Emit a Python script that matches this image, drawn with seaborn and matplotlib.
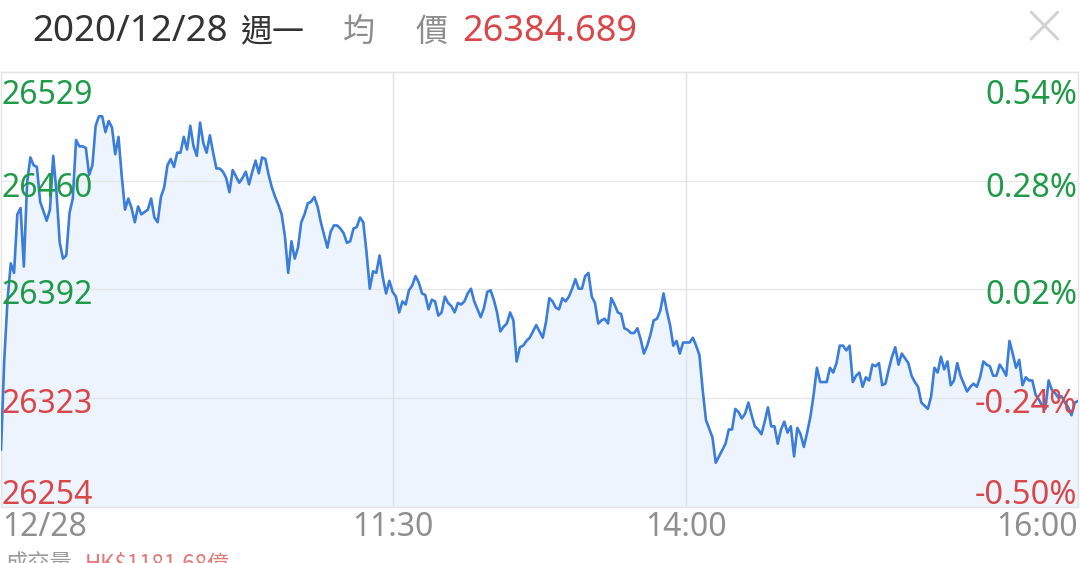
import matplotlib
matplotlib.use("Agg")
import matplotlib.pyplot as plt
import pandas as pd
import seaborn as sns

sns.set_theme(style="white")
plt.rcParams['font.family'] = ['Noto Sans', 'Noto Sans CJK TC', 'DejaVu Sans']

# trading minutes since 9:30 (lunch break removed), index level
minutes = [0, 1, 2, 3, 4, 5, 6, 7, 8, 9, 10, 11, 12, 14, 15, 16, 17, 18, 19, 20,
           21, 22, 23, 24, 25, 26, 27, 28, 29, 30, 31, 32, 33, 34, 35, 36, 37, 38, 39, 40,
           41, 42, 43, 45, 46, 47, 48, 49, 50, 51, 52, 53, 54, 55, 56, 57, 58, 59, 60, 61,
           62, 63, 64, 65, 66, 67, 68, 69, 70, 71, 72, 73, 74, 75, 76, 77, 78, 79, 80, 81,
           82, 83, 84, 85, 86, 87, 88, 89, 90, 91, 92, 93, 94, 95, 96, 97, 98, 99, 100, 101,
           102, 103, 104, 105, 106, 107, 108, 109, 110, 111, 112, 113, 114, 115, 116, 117, 118, 119, 120, 121,
           122, 123, 124, 125, 126, 127, 128, 129, 130, 131, 132, 133, 134, 135, 136, 137, 138, 139, 140, 141,
           142, 143, 144, 145, 146, 147, 148, 149, 150, 151, 152, 153, 154, 155, 156, 157, 158, 159, 160, 161,
           162, 163, 164, 165, 166, 167, 168, 169, 170, 171, 172, 173, 174, 175, 176, 177, 178, 179, 180, 181,
           182, 183, 184, 185, 186, 187, 188, 189, 190, 191, 192, 193, 194, 195, 196, 197, 198, 199, 200, 201,
           202, 203, 204, 205, 206, 207, 208, 209, 210, 211, 212, 213, 214, 215, 216, 218, 219, 220, 221, 222,
           223, 224, 225, 226, 227, 228, 229, 230, 231, 232, 233, 234, 235, 236, 237, 238, 239, 240, 241, 242,
           243, 244, 245, 246, 247, 248, 249, 250, 251, 252, 253, 254, 255, 256, 257, 258, 259, 260, 261, 262,
           263, 264, 265, 266, 267, 268, 269, 270, 271, 272, 273, 274, 275, 276, 277, 278, 279, 280, 281, 282,
           283, 284, 285, 286, 287, 288, 289, 290, 291, 292, 293, 294, 295, 296, 297, 298, 299, 300, 301, 302,
           303, 304, 305, 306, 307, 308, 309, 310, 311, 312, 313, 314, 315, 316, 317, 318, 319, 320, 321, 322,
           323, 324, 325, 326, 327, 328, 329, 330]
prices = [26290, 26347, 26385, 26408, 26402, 26439, 26443, 26406, 26459, 26475, 26470, 26469, 26447, 26435, 26442, 26476, 26453, 26421, 26411, 26413,
          26440, 26449, 26486, 26482, 26482, 26481, 26464, 26470, 26495, 26501, 26501, 26491, 26498, 26494, 26477, 26488, 26463, 26442, 26449, 26443,
          26434, 26444, 26439, 26442, 26449, 26437, 26434, 26450, 26456, 26470, 26474, 26469, 26478, 26478, 26488, 26480, 26495, 26482, 26476, 26497,
          26484, 26478, 26489, 26478, 26468, 26468, 26466, 26462, 26453, 26467, 26463, 26459, 26462, 26466, 26458, 26466, 26473, 26465, 26475, 26474,
          26464, 26456, 26450, 26445, 26439, 26425, 26402, 26422, 26411, 26418, 26434, 26439, 26446, 26447, 26450, 26444, 26434, 26426, 26418, 26428,
          26432, 26432, 26430, 26427, 26421, 26422, 26430, 26431, 26437, 26434, 26415, 26392, 26403, 26402, 26413, 26399, 26389, 26397, 26390, 26387,
          26377, 26384, 26382, 26391, 26394, 26400, 26396, 26389, 26388, 26379, 26385, 26384, 26375, 26377, 26387, 26383, 26381, 26377, 26383, 26382,
          26384, 26389, 26392, 26384, 26379, 26374, 26380, 26390, 26391, 26385, 26377, 26365, 26368, 26370, 26377, 26372, 26346, 26355, 26356, 26359,
          26361, 26365, 26369, 26365, 26361, 26371, 26386, 26384, 26380, 26379, 26386, 26384, 26387, 26392, 26398, 26392, 26392, 26400, 26402, 26387,
          26383, 26370, 26372, 26373, 26370, 26386, 26382, 26377, 26376, 26367, 26366, 26364, 26364, 26367, 26360, 26351, 26356, 26363, 26372, 26373,
          26378, 26389, 26378, 26369, 26356, 26359, 26351, 26358, 26358, 26358, 26361, 26356, 26350, 26328, 26309, 26298, 26282, 26286, 26290, 26294,
          26303, 26303, 26316, 26314, 26310, 26313, 26320, 26312, 26305, 26303, 26300, 26308, 26317, 26305, 26305, 26294, 26303, 26308, 26301, 26305,
          26286, 26304, 26300, 26292, 26301, 26311, 26325, 26342, 26333, 26333, 26333, 26342, 26339, 26345, 26356, 26356, 26353, 26356, 26333, 26337,
          26339, 26330, 26336, 26334, 26344, 26343, 26345, 26331, 26332, 26341, 26349, 26355, 26344, 26351, 26348, 26345, 26337, 26333, 26330, 26320,
          26318, 26316, 26324, 26342, 26339, 26349, 26341, 26346, 26331, 26334, 26345, 26337, 26332, 26327, 26330, 26332, 26330, 26336, 26346, 26344,
          26343, 26337, 26337, 26344, 26341, 26337, 26359, 26351, 26342, 26347, 26331, 26336, 26334, 26334, 26325, 26322, 26318, 26316, 26334, 26328,
          26326, 26323, 26324, 26320, 26317, 26312, 26320, 26321]

y_ticks = [26529, 26460, 26392, 26323, 26254]
pct_labels = ["0.54%", "0.28%", "0.02%", "-0.24%", "-0.50%"]
x_ticks = [0, 120, 210, 330]
x_labels = ["12/28", "11:30", "14:00", "16:00"]

GREEN = "#1f9a48"
RED = "#d8474a"
LINE = "#3b7ddb"

df = pd.DataFrame({"minute": minutes, "price": prices})

fig = plt.figure(figsize=(10.8, 5.63), dpi=100)
ax = fig.add_axes([1 / 1080, 1 - 507 / 563, 1077 / 1080, 435 / 563])

ax.fill_between(df["minute"], df["price"], y_ticks[-1], color="#edf4fd", lw=0, zorder=0)
sns.lineplot(data=df, x="minute", y="price", ax=ax, color=LINE, linewidth=1.9, zorder=3)

ax.set_xlim(x_ticks[0], x_ticks[-1])
ax.set_ylim(y_ticks[-1], y_ticks[0])
ax.set_xticks([])
ax.set_yticks([])
ax.set_xlabel("")
ax.set_ylabel("")
for s in ax.spines.values():
    s.set_color("#e4e4e4")
    s.set_linewidth(1)

for y in y_ticks[1:-1]:
    ax.axhline(y, color="#e6e6e6", lw=1, zorder=1)
for x in x_ticks[1:-1]:
    ax.axvline(x, color="#e0e4ea", lw=1, zorder=1)

# y labels drawn inside the plot, left price / right percent
offsets = [-22.7, -11.2, -11.2, -11.2, 1.8]
for v, pct, off in zip(y_ticks, pct_labels, offsets):
    c = RED if pct.startswith("-") else GREEN
    ax.annotate(str(v), xy=(0, v), xycoords=("axes fraction", "data"), xytext=(0.7, off),
                textcoords="offset points", ha="left", va="baseline", color=c,
                fontsize=23, annotation_clip=False, zorder=4)
    ax.annotate(pct, xy=(1, v), xycoords=("axes fraction", "data"), xytext=(-0.3, off),
                textcoords="offset points", ha="right", va="baseline", color=c,
                fontsize=23.5, annotation_clip=False, zorder=4)

has = ["left", "center", "center", "right"]
for x, lbl, ha in zip(x_ticks, x_labels, has):
    ax.annotate(lbl, xy=(x, 0), xycoords=("data", "axes fraction"), xytext=(0.7 if ha == "left" else 0, -20.9),
                textcoords="offset points", ha=ha, va="baseline", color="#8f8f8f",
                fontsize=23, fontweight="light", annotation_clip=False)

# header
hy = 1 - 41 / 563
fig.text(32 / 1080, hy, "2020/12/28", color="#333333", fontsize=26.5, va="baseline")
fig.text(240 / 1080, hy, "週一", color="#333333", fontsize=23, va="baseline",
         family=["Noto Sans CJK TC", "DejaVu Sans"])
fig.text(343 / 1080, hy, "均", color="#8c8c8c", fontsize=23, va="baseline",
         family=["Noto Sans CJK TC", "DejaVu Sans"])
fig.text(415 / 1080, hy, "價", color="#8c8c8c", fontsize=23, va="baseline",
         family=["Noto Sans CJK TC", "DejaVu Sans"])
fig.text(462 / 1080, hy, "26384.689", color=RED, fontsize=26, va="baseline")
fig.text(1044 / 1080, 1 - 28 / 563, "×", color="#d2d2d2", fontsize=42, ha="center", va="center",
         family=["DejaVu Sans"], fontweight="light")

# footer, cut off by the frame edge as in the screenshot
fig.text(5 / 1080, 1 - 553 / 563, "成交量", color="#999999", fontsize=16, va="top",
         family=["Noto Sans CJK TC", "DejaVu Sans"])
fig.text(85 / 1080, 1 - 553 / 563, "HK$1181.68億", color="#e07a7a", fontsize=16, va="top",
         family=["Noto Sans CJK TC", "DejaVu Sans"])

fig.savefig("out.png", dpi=100, facecolor="white")
